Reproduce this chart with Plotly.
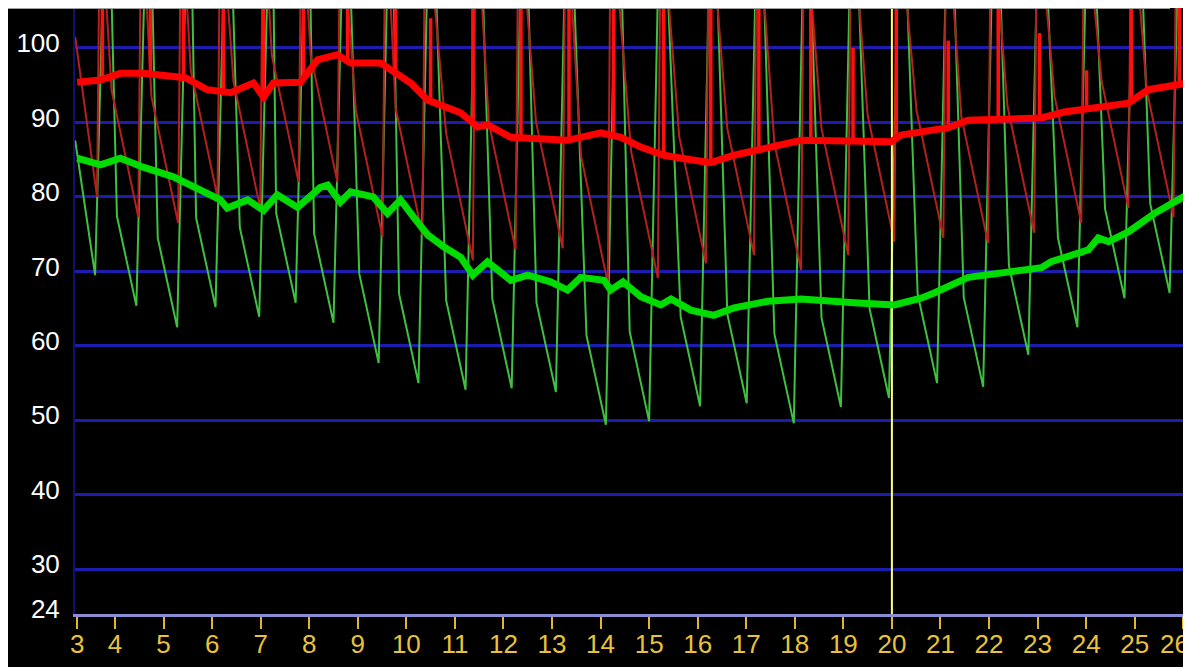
import plotly.graph_objects as go

# ---------------- data ----------------
x_tick_vals = [3.22, 4, 5, 6, 7, 8, 9, 10, 11, 12, 13, 14, 15, 16, 17, 18, 19, 20,
               21, 22, 23, 24, 25, 26]
x_tick_text = ["3", "4", "5", "6", "7", "8", "9", "10", "11", "12", "13", "14", "15",
               "16", "17", "18", "19", "20", "21", "22", "23", "24", "25", "26"]
y_tick_vals = [24, 30, 40, 50, 60, 70, 80, 90, 100]
x_range = [3.176, 26.16]
y_range = [24, 105.37]
cursor_t = 20.0

# thin green waveform: start, per-beat minimum, off-chart peak, knee before next minimum
green_start_t, green_start_v = 3.18, 87.6
green_min_t = [3.59, 4.44, 5.28, 6.07, 6.97, 7.72, 8.50, 9.43, 10.25, 11.22, 12.17, 13.08,
               14.11, 15.00, 16.05, 17.01, 17.98, 18.95, 19.94, 20.93, 21.88, 22.81, 23.82,
               24.79, 25.72]
green_min_v = [69.5, 65.4, 62.5, 65.2, 63.9, 65.8, 63.1, 57.7, 55.0, 54.1, 54.3, 53.8,
               49.4, 49.9, 51.9, 52.3, 49.6, 51.8, 53.0, 55.0, 54.5, 58.8, 62.5, 66.4, 67.1]
green_peak_t = [3.84, 4.69, 5.53, 6.32, 7.22, 7.97, 8.75, 9.68, 10.50, 11.47, 12.42, 13.33,
                14.36, 15.25, 16.30, 17.26, 18.23, 19.20, 20.19, 21.18, 22.13, 23.06, 24.07,
                25.04, 25.97]
green_peak_v = [130, 130, 130, 130, 130, 130, 130, 130, 130, 130, 130, 130, 130, 130, 130,
                130, 130, 130, 130, 130, 130, 130, 130, 130, 130]
green_knee_t = [4.04, 4.88, 5.67, 6.57, 7.32, 8.10, 9.03, 9.85, 10.82, 11.77, 12.68, 13.71,
                14.60, 15.65, 16.61, 17.58, 18.55, 19.54, 20.53, 21.48, 22.41, 23.42, 24.39,
                25.32]
green_knee_v = [77.4, 74.5, 77.2, 75.9, 77.8, 75.1, 69.7, 67.0, 66.1, 66.3, 65.8, 61.4,
                61.9, 63.9, 64.3, 61.6, 63.8, 65.0, 67.0, 66.5, 70.8, 74.5, 78.4, 79.1]

# thin red waveform
red_start_t, red_start_v = 3.18, 101.5
red_min_t = [3.63, 4.48, 5.30, 6.11, 6.99, 7.78, 8.58, 9.51, 10.33, 11.37, 12.25, 13.22,
             14.15, 15.18, 16.17, 17.16, 18.13, 19.10, 20.05, 21.06, 21.98, 22.93, 23.90,
             24.87, 25.80]
red_min_v = [80.0, 77.3, 76.5, 80.0, 78.5, 82.0, 82.0, 74.6, 74.9, 71.5, 72.9, 73.1, 68.4,
             69.1, 71.1, 72.2, 70.2, 72.2, 74.0, 74.5, 73.8, 75.2, 76.5, 78.5, 77.3]
red_peak_t = [3.69, 4.54, 5.36, 6.17, 7.05, 7.84, 8.64, 9.57, 10.39, 11.43, 12.31, 13.28,
              14.21, 15.24, 16.23, 17.22, 18.19, 19.16, 20.11, 21.12, 22.04, 22.99, 23.96,
              24.93, 25.86]
red_peak_v = [120, 120, 120, 120, 120, 120, 120, 120, 120, 120, 120, 120, 120, 120, 120,
              120, 120, 120, 120, 120, 120, 120, 120, 120, 120]
red_knee_t = [3.93, 4.75, 5.56, 6.44, 7.23, 8.03, 8.96, 9.78, 10.82, 11.70, 12.67, 13.60,
              14.63, 15.62, 16.61, 17.58, 18.55, 19.50, 20.51, 21.43, 22.38, 23.35, 24.32,
              25.25]
red_knee_v = [94.3, 93.5, 97.0, 95.5, 99.0, 99.0, 91.6, 91.9, 88.5, 89.9, 90.1, 85.4, 86.1,
              88.1, 89.2, 87.2, 89.2, 91.0, 91.5, 90.8, 92.2, 93.5, 95.5, 94.3]

# thick (averaged) lines
red_avg_t = [3.22, 3.70, 4.11, 4.58, 5.45, 5.90, 6.38, 6.85, 7.06, 7.26, 7.82, 8.17, 8.58,
             8.85, 9.47, 10.09, 10.44, 11.12, 11.47, 11.67, 12.15, 12.62, 13.32, 14.00,
             14.42, 14.83, 15.30, 15.86, 16.27, 16.75, 17.45, 18.13, 19.98, 20.19, 21.16,
             21.57, 23.08, 23.55, 24.87, 25.28, 26.19]
red_avg_v = [95.4, 95.7, 96.6, 96.6, 96.0, 94.4, 94.0, 95.3, 93.4, 95.3, 95.4, 98.4, 99.1,
             98.0, 98.0, 95.3, 93.0, 91.3, 89.4, 89.7, 88.0, 87.9, 87.6, 88.6, 88.0, 86.7,
             85.6, 85.0, 84.6, 85.6, 86.7, 87.6, 87.4, 88.3, 89.3, 90.3, 90.6, 91.4, 92.6,
             94.4, 95.4]
green_avg_t = [3.22, 3.70, 4.11, 4.58, 5.20, 5.76, 6.17, 6.31, 6.73, 7.06, 7.34, 7.76, 8.23,
               8.38, 8.64, 8.85, 9.32, 9.61, 9.88, 10.15, 10.44, 10.77, 11.12, 11.37, 11.67,
               12.15, 12.50, 12.97, 13.32, 13.59, 14.07, 14.21, 14.46, 14.83, 15.24, 15.45,
               15.86, 16.33, 16.75, 17.45, 18.13, 19.22, 20.05, 20.60, 20.87, 21.57, 22.25,
               23.08, 23.28, 24.05, 24.25, 24.46, 24.87, 25.41, 26.19]
green_avg_v = [85.2, 84.3, 85.2, 84.0, 82.7, 81.0, 79.6, 78.5, 79.6, 78.2, 80.3, 78.6, 81.3,
               81.6, 79.3, 80.7, 80.0, 77.8, 79.6, 77.3, 74.9, 73.3, 71.9, 69.5, 71.3, 68.8,
               69.5, 68.6, 67.5, 69.2, 68.8, 67.5, 68.6, 66.6, 65.5, 66.3, 64.8, 64.1, 65.1,
               66.0, 66.3, 65.8, 65.5, 66.4, 67.1, 69.2, 69.8, 70.5, 71.3, 72.9, 74.5, 74.0,
               75.3, 77.8, 80.7]

# bright red beat markers rising from the averaged red line
spike_t = [3.74, 4.73, 5.41, 6.23, 7.06, 7.88, 8.79, 9.78, 10.50, 11.37, 12.36, 13.35,
           14.27, 15.30, 16.27, 17.26, 18.33, 19.20, 20.09, 21.16, 22.19, 23.04, 24.01,
           24.93, 25.92]
spike_lo = [95.7, 96.5, 96.0, 94.1, 93.4, 95.6, 98.2, 97.0, 92.6, 89.6, 88.0, 87.6, 88.3,
            85.6, 84.6, 86.4, 87.6, 87.5, 87.4, 89.3, 90.4, 90.6, 91.8, 92.8, 95.2]
spike_hi = [110, 110, 110, 110, 110, 110, 110, 110, 104, 110, 110, 110, 110, 110, 110, 110,
            106, 100, 110, 101, 110, 102, 97, 110, 110]

# ---------------- build polylines ----------------
def waveform(start_t, start_v, min_t, min_v, peak_t, peak_v, knee_t, knee_v):
    xs, ys = [start_t], [start_v]
    for i in range(len(min_t)):
        if i > 0:
            xs.append(knee_t[i - 1]); ys.append(knee_v[i - 1])
        xs.append(min_t[i]); ys.append(min_v[i])
        xs.append(peak_t[i]); ys.append(peak_v[i])
    return xs, ys

gx, gy = waveform(green_start_t, green_start_v, green_min_t, green_min_v,
                  green_peak_t, green_peak_v, green_knee_t, green_knee_v)
rx, ry = waveform(red_start_t, red_start_v, red_min_t, red_min_v,
                  red_peak_t, red_peak_v, red_knee_t, red_knee_v)

sx, sy = [], []
for t, lo, hi in zip(spike_t, spike_lo, spike_hi):
    sx += [t, t, None]
    sy += [lo, hi, None]

fig = go.Figure()
fig.add_trace(go.Scatter(x=gx, y=gy, mode="lines", line=dict(color="#40c040", width=2),
                         hoverinfo="skip"))
fig.add_trace(go.Scatter(x=rx, y=ry, mode="lines", line=dict(color="#b42020", width=2),
                         hoverinfo="skip"))
fig.add_trace(go.Scatter(x=[cursor_t, cursor_t], y=y_range, mode="lines",
                         line=dict(color="#ffff78", width=2), hoverinfo="skip"))
fig.add_trace(go.Scatter(x=sx, y=sy, mode="lines", line=dict(color="#ff1010", width=3.5),
                         hoverinfo="skip"))
fig.add_trace(go.Scatter(x=green_avg_t, y=green_avg_v, mode="lines",
                         line=dict(color="#00dc00", width=7), hoverinfo="skip"))
fig.add_trace(go.Scatter(x=red_avg_t, y=red_avg_v, mode="lines",
                         line=dict(color="#ff0000", width=7), hoverinfo="skip"))

label_font = "Liberation Sans, Arial, sans-serif"
x_label_color = "#e8c23c"

# the page body adds an 8 px white margin at the top and left
W, H = 1183, 659
ML, MB = 67, 53
pw, ph = W - ML, H - MB

def px_x(p):
    return (p - ML) / pw

# the last x label sits at the right edge: draw it as an annotation so it stays whole
shown_text = x_tick_text[:-1] + [""]
annotations = [
    dict(text=x_tick_text[-1], xref="paper", yref="paper", x=1.0, xanchor="right",
         y=-30 / ph, yanchor="middle", showarrow=False,
         font=dict(family=label_font, size=26, color=x_label_color)),
]

shapes = [
    dict(type="line", xref="paper", yref="paper", x0=px_x(-1), x1=px_x(1162),
         y0=1, y1=1, line=dict(color="#a0a0a0", width=2), layer="above"),
]

fig.update_layout(
    width=W, height=H,
    margin=dict(l=ML, r=0, t=0, b=MB, pad=0, autoexpand=False),
    paper_bgcolor="#000000", plot_bgcolor="#000000",
    showlegend=False,
    shapes=shapes,
    annotations=annotations,
    xaxis=dict(range=x_range, tickmode="array", tickvals=x_tick_vals, ticktext=shown_text,
               ticks="outside", ticklen=12, tickwidth=2, tickcolor="#e0b830",
               ticklabelstandoff=-7, ticklabeloverflow="allow", automargin=False,
               tickfont=dict(family=label_font, size=26, color=x_label_color),
               showgrid=False, zeroline=False, showline=True, linecolor="#8c8cd4",
               linewidth=3, fixedrange=True),
    yaxis=dict(range=y_range, tickmode="array", tickvals=y_tick_vals, automargin=False,
               ticks="", ticklabelstandoff=8, ticklabelshift=-5,
               tickfont=dict(family=label_font, size=26, color="#ffffff"),
               showgrid=True, gridcolor="#1c1cae", gridwidth=3, zeroline=False,
               showline=True, linecolor="#10106e", linewidth=2, fixedrange=True),
)

fig.write_html("out.html")
